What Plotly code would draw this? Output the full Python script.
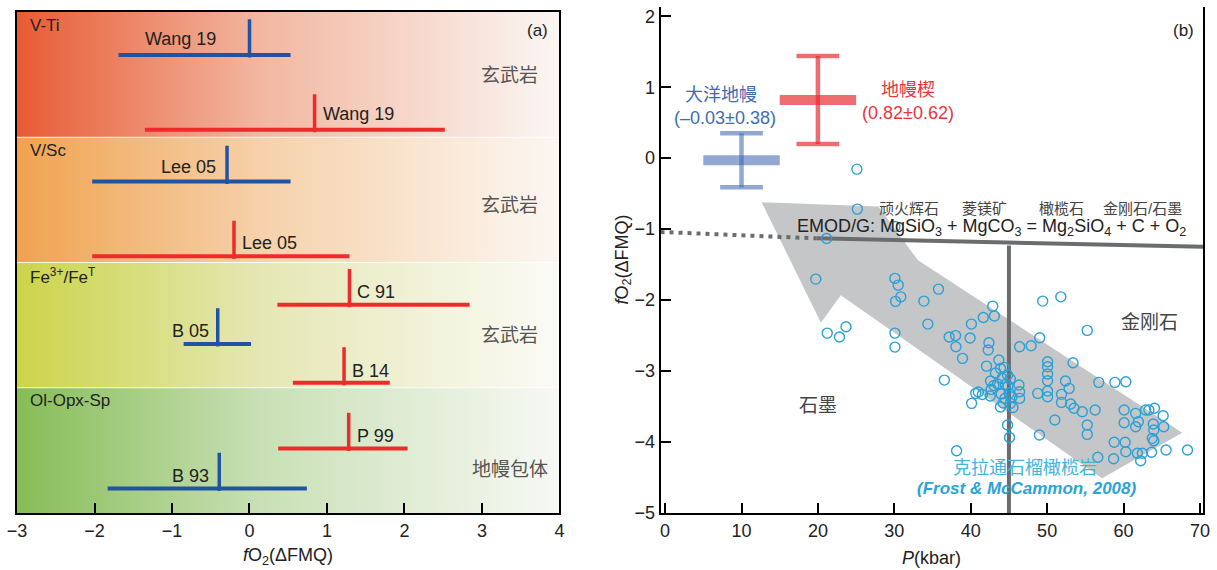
import plotly.graph_objects as go

# ---------------- Panel (a) data ----------------
band_names = ["V-Ti", "V/Sc", "Fe<sup>3+</sup>/Fe<sup>T</sup>", "Ol-Opx-Sp"]
band_rock = ["玄武岩", "玄武岩", "玄武岩", "地幔包体"]
band_top = [4, 3, 2, 1]

est_labels = ["Wang 19", "Wang 19", "Lee 05", "Lee 05", "C 91", "B 05", "B 14", "P 99", "B 93"]
est_group = ["blue", "red", "blue", "red", "red", "blue", "red", "red", "blue"]
est_center = [0.00, 0.84, -0.29, -0.20, 1.29, -0.41, 1.22, 1.28, -0.39]
est_low = [-1.69, -1.35, -2.03, -2.03, 0.36, -0.85, 0.56, 0.37, -1.83]
est_high = [0.53, 2.52, 0.53, 1.29, 2.84, 0.02, 1.81, 2.04, 0.74]
est_row = [3.657, 3.059, 2.647, 2.049, 1.663, 1.350, 1.039, 0.515, 0.196]

# ---------------- Panel (b) data ----------------
mantle_names = ["大洋地幔", "地幔楔"]
mantle_labels = ["(–0.03±0.38)", "(0.82±0.62)"]
mantle_P = [10, 20]
mantle_mean = [-0.03, 0.82]
mantle_err = [0.38, 0.62]

garnet_P = [
    25.10, 25.16, 30.08, 21.14, 19.72, 21.22, 22.82, 23.68, 30.08, 30.51,
    30.85, 30.16, 30.08, 30.08, 33.87, 34.39, 35.78, 36.55, 37.18, 38.02,
    38.06, 39.92, 40.09, 38.93, 41.65, 42.88, 43.10, 42.38, 42.29, 42.07,
    43.68, 38.15, 43.89, 43.24, 44.37, 42.59, 43.03, 43.52, 44.11, 44.53,
    44.82, 45.18, 44.88, 40.65, 41.00, 41.52, 42.55, 42.68, 40.12, 43.98,
    44.24, 43.89, 45.01, 45.40, 44.49, 45.53, 45.18, 44.82, 45.08, 46.31,
    46.40, 46.40, 49.42, 51.79, 55.25, 49.03, 47.90, 46.40, 53.39, 50.06,
    50.06, 50.06, 50.06, 50.06, 50.06, 48.77, 52.40, 52.88, 51.88, 51.88,
    53.08, 53.52, 54.60, 56.28, 56.76, 58.87, 60.30, 51.01, 55.25, 55.25,
    48.99, 60.08, 60.08, 61.59, 61.94, 61.59, 62.89, 63.32, 64.05, 65.18,
    63.89, 63.96, 63.76, 63.96, 65.26, 58.78, 60.21, 60.30, 56.63, 58.70,
    61.81, 62.46, 62.24, 63.67, 65.57, 68.37,
]
garnet_fO2 = [
    -0.155, -0.718, -0.962, -1.131, -1.704, -2.465, -2.521, -2.376, -1.694, -1.789,
    -1.954, -2.018, -2.465, -2.662, -2.014, -2.338, -1.845, -3.127, -2.521, -2.500,
    -2.658, -2.535, -2.338, -2.821, -2.246, -2.085, -2.225, -2.601, -2.704, -2.930,
    -2.845, -4.123, -2.962, -3.028, -2.948, -3.141, -3.204, -3.183, -3.103, -3.190,
    -3.056, -3.113, -3.211, -3.314, -3.296, -3.331, -3.352, -3.258, -3.455, -3.324,
    -3.451, -3.507, -3.314, -3.366, -3.385, -3.514, -3.455, -3.761, -3.937, -3.197,
    -3.292, -3.385, -2.014, -1.954, -2.427, -2.531, -2.644, -2.658, -2.883, -2.869,
    -2.939, -3.042, -3.137, -3.282, -3.362, -3.314, -3.141, -3.244, -3.328, -3.441,
    -3.465, -3.525, -3.573, -3.549, -3.159, -3.159, -3.151, -3.690, -3.761, -3.892,
    -3.901, -3.549, -3.728, -3.596, -3.714, -3.785, -3.549, -3.549, -3.525, -3.630,
    -3.746, -3.831, -3.948, -3.982, -3.785, -4.004, -4.004, -4.137, -4.215, -4.235,
    -4.159, -4.159, -4.263, -4.145, -4.113, -4.113,
]

emod_dotted_P = [-0.6, 19.8]
emod_dotted_f = [-1.04, -1.13]
emod_solid_P = [19.8, 70.4]
emod_solid_f = [-1.13, -1.25]
boundary_P = [45, 45]
boundary_f = [-1.23, -5.0]

arrow_P = [12.63, 27.91, 33.10, 67.68, 57.19, 22.99, 20.40, 12.63]
arrow_f = [-0.62, -0.68, -1.44, -3.87, -4.51, -1.93, -2.32, -0.62]

mineral_names = ["顽火辉石", "菱镁矿", "橄榄石", "金刚石/石墨"]
mineral_P = [31.96, 41.74, 51.94, 62.54]

# ---------------- Styles ----------------
FONT = "Liberation Sans, Arial, Noto Sans CJK SC, sans-serif"
BLUE_A = "#2153a3"
RED_A = "#ee2b2b"
band_scales = [
    [[0, "#e85b34"], [0.45, "#f2b7a1"], [1, "#fbf6f3"]],
    [[0, "#f0a34f"], [0.45, "#f6d1ab"], [1, "#fcf7f2"]],
    [[0, "#ccd44a"], [0.45, "#e5e7b4"], [1, "#fbfbf6"]],
    [[0, "#86bd57"], [0.45, "#c9e0b5"], [1, "#f7f9f4"]],
]
label_dx = [-31, 6, -9, 6, 6, -7, 6, 6, -8]
label_dy = [16, 16, 14, 13, 13, 12.5, 12, 12, 12]
tick_h = 0.285
mantle_fill = ["rgba(59,102,176,0.57)", "rgba(232,40,46,0.68)"]
mantle_text = ["#3f6cb4", "#e8353b"]
cap_half = 2.8
bar_half = 5.0
PT_COLOR = "#2aa0d6"
LINE_GREY = "#6b6c6e"

fig = go.Figure()

# Panel (a): gradient bands
for k in range(4):
    t = band_top[k]
    fig.add_trace(go.Scatter(
        x=[-3, 4, 4, -3, -3], y=[t - 1, t - 1, t, t, t - 1],
        mode="lines", line=dict(width=0), fill="toself",
        fillgradient=dict(type="horizontal", colorscale=band_scales[k]),
        hoverinfo="skip", showlegend=False, xaxis="x", yaxis="y"))
# separators
for t in band_top[1:]:
    fig.add_trace(go.Scatter(x=[-3, 4], y=[t, t], mode="lines",
                             line=dict(color="rgba(255,255,255,0.8)", width=1.2),
                             hoverinfo="skip", showlegend=False, xaxis="x", yaxis="y"))

# estimates
for i in range(len(est_labels)):
    col = BLUE_A if est_group[i] == "blue" else RED_A
    fig.add_trace(go.Scatter(
        x=[est_low[i], est_high[i]], y=[est_row[i], est_row[i]], mode="lines",
        line=dict(color=col, width=4), hoverinfo="skip", showlegend=False,
        xaxis="x", yaxis="y"))
    fig.add_trace(go.Scatter(
        x=[est_center[i], est_center[i]], y=[est_row[i] - 0.02, est_row[i] + tick_h],
        mode="lines", line=dict(color=col, width=3.5), hoverinfo="skip",
        showlegend=False, xaxis="x", yaxis="y"))
    fig.add_annotation(
        x=est_center[i], y=est_row[i], xref="x", yref="y", text=est_labels[i],
        showarrow=False, xanchor="right" if label_dx[i] < 0 else "left",
        yanchor="middle", xshift=label_dx[i], yshift=label_dy[i],
        font=dict(family=FONT, size=18, color="#222"))

for k in range(4):
    t = band_top[k]
    fig.add_annotation(x=-2.86, y=t - 0.105, xref="x", yref="y", text=band_names[k],
                       showarrow=False, xanchor="left", yanchor="middle",
                       font=dict(family=FONT, size=17, color="#222"))
rock_y = [3.49, 2.453, 1.416, 0.348]
for k in range(4):
    fig.add_annotation(x=3.36, y=rock_y[k], xref="x", yref="y", text=band_rock[k],
                       showarrow=False, xanchor="center", yanchor="middle",
                       font=dict(family=FONT, size=19, color="#555"))
fig.add_annotation(x=3.71, y=3.851, xref="x", yref="y", text="(a)", showarrow=False,
                   font=dict(family=FONT, size=17, color="#222"))
fig.add_annotation(x=0.5, y=0, xref="x domain", yref="y domain",
                   text="<i>f</i>O<sub>2</sub>(ΔFMQ)", showarrow=False,
                   yanchor="middle", yshift=-43, font=dict(family=FONT, size=18, color="#222"))

# Panel (b)
fig.add_trace(go.Scatter(x=arrow_P, y=arrow_f, mode="lines", fill="toself",
                         fillcolor="#c5c6c8", line=dict(width=0), hoverinfo="skip",
                         showlegend=False, xaxis="x2", yaxis="y2"))
fig.add_trace(go.Scatter(x=emod_dotted_P, y=emod_dotted_f, mode="lines",
                         line=dict(color=LINE_GREY, width=4, dash="4px,5px"),
                         hoverinfo="skip", showlegend=False, xaxis="x2", yaxis="y2"))
fig.add_trace(go.Scatter(x=emod_solid_P, y=emod_solid_f, mode="lines",
                         line=dict(color=LINE_GREY, width=4),
                         hoverinfo="skip", showlegend=False, xaxis="x2", yaxis="y2"))
fig.add_trace(go.Scatter(x=boundary_P, y=boundary_f, mode="lines",
                         line=dict(color=LINE_GREY, width=4),
                         hoverinfo="skip", showlegend=False, xaxis="x2", yaxis="y2"))

for i in range(2):
    p, m, e, c = mantle_P[i], mantle_mean[i], mantle_err[i], mantle_fill[i]
    fig.add_trace(go.Scatter(x=[p, p], y=[m - e, m + e], mode="lines",
                             line=dict(color=c, width=4.5), hoverinfo="skip",
                             showlegend=False, xaxis="x2", yaxis="y2"))
    fig.add_trace(go.Scatter(x=[p - cap_half, p + cap_half, None, p - cap_half, p + cap_half],
                             y=[m - e, m - e, None, m + e, m + e], mode="lines",
                             line=dict(color=c, width=4.5), hoverinfo="skip",
                             showlegend=False, xaxis="x2", yaxis="y2"))
    fig.add_trace(go.Scatter(x=[p - bar_half, p + bar_half], y=[m, m], mode="lines",
                             line=dict(color=c, width=10), hoverinfo="skip",
                             showlegend=False, xaxis="x2", yaxis="y2"))

fig.add_trace(go.Scatter(x=garnet_P, y=garnet_fO2, mode="markers",
                         marker=dict(symbol="circle-open", size=10,
                                     line=dict(color=PT_COLOR, width=1.4), color=PT_COLOR),
                         hoverinfo="skip", showlegend=False, xaxis="x2", yaxis="y2"))

# panel (b) texts
fig.add_annotation(x=7.25, y=0.887, xref="x2", yref="y2", text=mantle_names[0], showarrow=False,
                   font=dict(family=FONT, size=18, color=mantle_text[0]))
fig.add_annotation(x=7.8, y=0.573, xref="x2", yref="y2", text=mantle_labels[0], showarrow=False,
                   font=dict(family=FONT, size=18, color=mantle_text[0]))
fig.add_annotation(x=31.8, y=0.958, xref="x2", yref="y2", text=mantle_names[1], showarrow=False,
                   font=dict(family=FONT, size=18, color=mantle_text[1]))
fig.add_annotation(x=31.8, y=0.638, xref="x2", yref="y2", text=mantle_labels[1], showarrow=False,
                   font=dict(family=FONT, size=18, color=mantle_text[1]))
for name, p in zip(mineral_names, mineral_P):
    fig.add_annotation(x=p, y=-0.715, xref="x2", yref="y2", text=name, showarrow=False,
                       font=dict(family=FONT, size=15, color="#444"))
fig.add_annotation(x=17.03, y=-0.975, xref="x2", yref="y2", xanchor="left",
                   text="EMOD/G: MgSiO<sub>3</sub> + MgCO<sub>3</sub> = Mg<sub>2</sub>SiO<sub>4</sub> + C + O<sub>2</sub>",
                   showarrow=False, font=dict(family=FONT, size=18, color="#222"))
fig.add_annotation(x=63.45, y=-2.32, xref="x2", yref="y2", text="金刚石", showarrow=False,
                   font=dict(family=FONT, size=19, color="#444"))
fig.add_annotation(x=20.01, y=-3.48, xref="x2", yref="y2", text="石墨", showarrow=False,
                   font=dict(family=FONT, size=19, color="#444"))
fig.add_annotation(x=47.13, y=-4.366, xref="x2", yref="y2", text="克拉通石榴橄榄岩", showarrow=False,
                   font=dict(family=FONT, size=18, color="#45b3e0"))
fig.add_annotation(x=47.35, y=-4.652, xref="x2", yref="y2",
                   text="<b><i>(Frost &amp; McCammon, 2008)</i></b>", showarrow=False,
                   font=dict(family=FONT, size=17, color="#2aa3d6"))
fig.add_annotation(x=67.8, y=1.80, xref="x2", yref="y2", text="(b)", showarrow=False,
                   font=dict(family=FONT, size=17, color="#222"))
fig.add_annotation(x=0, y=0.5, xref="x2 domain", yref="y2 domain",
                   text="<i>f</i>O<sub>2</sub>(ΔFMQ)", textangle=-90, showarrow=False,
                   xanchor="center", yanchor="middle", xshift=-38,
                   font=dict(family=FONT, size=18, color="#222"))
fig.add_annotation(x=0.5, y=0, xref="x2 domain", yref="y2 domain",
                   text="<i>P</i>(kbar)", showarrow=False, yanchor="middle", yshift=-45,
                   font=dict(family=FONT, size=18, color="#222"))

axis_common = dict(showgrid=False, zeroline=False, showline=True, linecolor="black",
                   linewidth=2, ticks="inside", ticklen=10, tickwidth=2, tickcolor="black",
                   ticklabeloverflow="allow",
                   tickfont=dict(family=FONT, size=18, color="#222"))

fig.update_layout(
    width=1217, height=570,
    margin=dict(l=10, r=9, t=7, b=57),
    paper_bgcolor="white", plot_bgcolor="white",
    showlegend=False,
    xaxis=dict(domain=[0, 0.4574], range=[-3, 4], tickvals=[-3, -2, -1, 0, 1, 2, 3, 4],
               mirror=True, anchor="y", **axis_common),
    yaxis=dict(domain=[0, 0.9901], range=[0, 4], showticklabels=False, ticks="",
               showgrid=False, zeroline=False, showline=True, linecolor="black",
               linewidth=2, mirror=True, anchor="x"),
    xaxis2=dict(domain=[0.5426, 1.0], range=[-0.6, 70.4], tickvals=[0, 10, 20, 30, 40, 50, 60, 70],
                anchor="y2", **axis_common),
    yaxis2=dict(domain=[0, 1.0], range=[-5.0, 2.13], tickvals=[-5, -4, -3, -2, -1, 0, 1, 2],
                anchor="x2", mirror=True, **axis_common),
)

fig.write_html("out.html", config={"displayModeBar": False},
               post_script="document.body.style.margin='0';document.body.style.overflow='hidden';")
